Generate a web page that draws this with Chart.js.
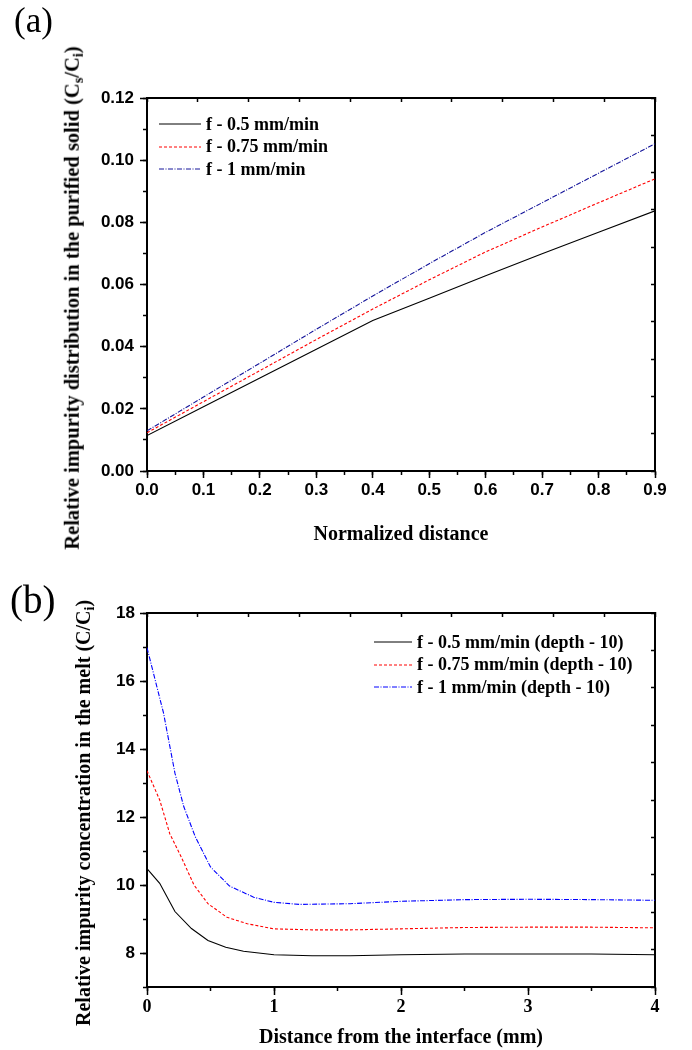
<!DOCTYPE html>
<html><head><meta charset="utf-8">
<script src="https://cdn.jsdelivr.net/npm/chart.js@4.4.1/dist/chart.umd.min.js"></script>
<style>
html,body{margin:0;padding:0;background:#fff;}
body{width:692px;height:1050px;position:relative;overflow:hidden;font-family:"Liberation Serif","Times New Roman",serif;}
canvas{position:absolute;left:0;}
.panel{position:absolute;font-family:"Liberation Serif",serif;font-weight:normal;line-height:1;}
.ytitle{position:absolute;font-weight:bold;font-size:20px;white-space:nowrap;transform:translate(-50%,-50%) rotate(-90deg);color:#000;line-height:1;}
.ytitle sub{font-size:70%;vertical-align:-0.3em;line-height:0;}
.leg{position:absolute;font-weight:bold;font-size:18px;white-space:nowrap;display:flex;align-items:center;height:22px;transform:translateY(-50%);color:#000;}
.leg svg{margin-right:5px;}
</style>
</head><body>
<canvas id="ca" width="692" height="555" style="top:0"></canvas>
<canvas id="cb" width="692" height="505" style="top:545px"></canvas>
<div class="panel" style="left:14px;top:3px;font-size:35px;">(a)</div>
<div class="panel" style="left:10px;top:580px;font-size:39px;">(b)</div>
<div class="ytitle" style="left:72px;top:298px;font-size:20.5px;">Relative impurity distribution in the purified solid (C<sub>s</sub>/C<sub>i</sub>)</div>
<div class="ytitle" style="left:83px;top:813px;">Relative impurity concentration in the melt (C/C<sub>i</sub>)</div>
<div id="legA"></div>
<div id="legB"></div>
<script>
// ---------- Panel (a) data ----------
const aDistance = [0, 0.1, 0.2, 0.3, 0.4, 0.5, 0.6, 0.7, 0.8, 0.9];
const aF05  = [0.0114, 0.0207, 0.0299, 0.0392, 0.0484, 0.0556, 0.0628, 0.0699, 0.0768, 0.0837];
const aF075 = [0.0123, 0.0223, 0.0323, 0.0423, 0.0521, 0.0615, 0.0705, 0.0785, 0.0863, 0.0940];
const aF1   = [0.0129, 0.0238, 0.0347, 0.0456, 0.0563, 0.0667, 0.0768, 0.0863, 0.0958, 0.1053];
const aLabels = ['f - 0.5 mm/min', 'f - 0.75 mm/min', 'f - 1 mm/min'];

// ---------- Panel (b) data ----------
const bDist05  = [0, 0.1, 0.22, 0.35, 0.48, 0.62, 0.76, 1.0, 1.3, 1.6, 2.0, 2.5, 3.0, 3.5, 4.0];
const bF05     = [10.48, 10.05, 9.22, 8.72, 8.37, 8.17, 8.05, 7.95, 7.92, 7.92, 7.95, 7.97, 7.97, 7.97, 7.95];
const bDist075 = [0, 0.1, 0.18, 0.27, 0.37, 0.48, 0.63, 0.79, 1.0, 1.3, 1.6, 2.0, 2.5, 3.0, 3.5, 4.0];
const bF075    = [13.36, 12.5, 11.5, 10.82, 10.0, 9.45, 9.05, 8.86, 8.71, 8.68, 8.68, 8.71, 8.75, 8.76, 8.76, 8.74];
const bDist1   = [0, 0.09, 0.13, 0.22, 0.29, 0.38, 0.5, 0.65, 0.84, 1.0, 1.2, 1.6, 2.0, 2.5, 3.0, 3.5, 4.0];
const bF1      = [16.98, 15.65, 15.06, 13.29, 12.3, 11.42, 10.53, 9.97, 9.64, 9.49, 9.43, 9.45, 9.52, 9.57, 9.58, 9.57, 9.55];
const bLabels = ['f - 0.5 mm/min (depth - 10)', 'f - 0.75 mm/min (depth - 10)', 'f - 1 mm/min (depth - 10)'];

const colorsA = ['#000000', '#ff0000', '#14149a'];
const colorsB = ['#000000', '#ff0000', '#0000ff'];
const dashes = [[], [3, 2], [5, 1.5, 1, 1.5]];

const sansBold = (s) => ({family: '"Liberation Sans", Arial, sans-serif', size: s, weight: 'bold'});
const serifBold = (s) => ({family: '"Liberation Serif", "Times New Roman", serif', size: s, weight: 'bold'});

function pts(xs, ys) { return xs.map((x, i) => ({x: x, y: ys[i]})); }
function ds(label, data, color, dash) {
  return {label, data, borderColor: color, backgroundColor: color, borderWidth: 1.1, borderDash: dash,
          pointRadius: 0, fill: false, tension: 0};
}
function frameAxes(xMin, xMax, xMinor, yMin, yMax, yMinor) {
  const none = {drawOnChartArea: false};
  return {
    xm: {type: 'linear', position: 'bottom', weight: -1, min: xMin, max: xMax,
         ticks: {display: false, stepSize: xMinor},
         grid: {...none, tickLength: 4, tickColor: '#000', tickWidth: 1.5},
         border: {display: false}, afterFit: s => { s.height = 0; }},
    ym: {type: 'linear', position: 'left', weight: -1, min: yMin, max: yMax,
         ticks: {display: false, stepSize: yMinor},
         grid: {...none, tickLength: 4, tickColor: '#000', tickWidth: 1.5},
         border: {display: false}, afterFit: s => { s.width = 0; }},
    x2: {type: 'linear', position: 'top', min: 0, max: 10,
         ticks: {display: false, stepSize: 1},
         grid: {...none, tickLength: -4, tickColor: '#000', tickWidth: 1.5},
         border: {color: '#000', width: 2}, afterFit: s => { s.height = 0; }},
    y2: {type: 'linear', position: 'right', min: 0, max: 10,
         ticks: {display: false, stepSize: 1},
         grid: {...none, tickLength: -4, tickColor: '#000', tickWidth: 1.5},
         border: {color: '#000', width: 2}, afterFit: s => { s.width = 0; }}
  };
}

// ---------- Chart (a) ----------
new Chart(document.getElementById('ca'), {
  type: 'line',
  data: {datasets: [
    ds(aLabels[0], pts(aDistance, aF05), colorsA[0], dashes[0]),
    ds(aLabels[1], pts(aDistance, aF075), colorsA[1], dashes[1]),
    ds(aLabels[2], pts(aDistance, aF1), colorsA[2], dashes[2])
  ]},
  options: {
    responsive: false, animation: false, devicePixelRatio: 1,
    layout: {padding: {top: 98, right: 37, left: 0, bottom: 0}},
    plugins: {legend: {display: false}, tooltip: {enabled: false}},
    scales: {
      x: {type: 'linear', position: 'bottom', min: 0, max: 0.9,
          ticks: {stepSize: 0.1, callback: v => v.toFixed(1), font: sansBold(17), color: '#000', padding: 2, maxRotation: 0, autoSkip: false},
          grid: {drawOnChartArea: false, tickLength: 7, tickColor: '#000', tickWidth: 1.5},
          border: {color: '#000', width: 2},
          title: {display: true, text: 'Normalized distance', font: serifBold(20), color: '#000', padding: {top: 0, bottom: 8}},
          afterFit: s => { s.height = 84; }},
      y: {type: 'linear', position: 'left', min: 0, max: 0.12,
          ticks: {stepSize: 0.02, callback: v => v.toFixed(2), font: sansBold(17), color: '#000', padding: 6, autoSkip: false},
          grid: {drawOnChartArea: false, tickLength: 7, tickColor: '#000', tickWidth: 1.5},
          border: {color: '#000', width: 2},
          afterFit: s => { s.width = 147; }},
      ...frameAxes(0, 0.9, 0.05, 0, 0.12, 0.01)
    }
  }
});

// ---------- Chart (b) ----------
new Chart(document.getElementById('cb'), {
  type: 'line',
  data: {datasets: [
    ds(bLabels[0], pts(bDist05, bF05), colorsB[0], dashes[0]),
    ds(bLabels[1], pts(bDist075, bF075), colorsB[1], dashes[1]),
    ds(bLabels[2], pts(bDist1, bF1), colorsB[2], dashes[2])
  ]},
  options: {
    responsive: false, animation: false, devicePixelRatio: 1,
    layout: {padding: {top: 68, right: 37, left: 0, bottom: 0}},
    plugins: {legend: {display: false}, tooltip: {enabled: false}},
    scales: {
      x: {type: 'linear', position: 'bottom', min: 0, max: 4,
          ticks: {stepSize: 1, font: serifBold(18), color: '#000', padding: 2, maxRotation: 0, autoSkip: false},
          grid: {drawOnChartArea: false, tickLength: 8, tickColor: '#000', tickWidth: 1.5},
          border: {color: '#000', width: 2},
          title: {display: true, text: 'Distance from the interface (mm)', font: serifBold(20), color: '#000', padding: {top: 0, bottom: 0}},
          afterFit: s => { s.height = 63; }},
      y: {type: 'linear', position: 'left', min: 7, max: 18,
          ticks: {stepSize: 1, callback: v => (v % 2 === 0 ? String(v) : ''), font: sansBold(17), color: '#000', padding: 5, autoSkip: false},
          grid: {drawOnChartArea: false, tickLength: 7, tickWidth: 1.5,
                 tickColor: c => (c.tick && c.tick.value % 2 === 0 ? '#000' : 'rgba(0,0,0,0)')},
          border: {color: '#000', width: 2},
          afterFit: s => { s.width = 147; }},
      ...frameAxes(0, 4, 0.5, 7, 18, 1)
    }
  }
});

// ---------- HTML legends ----------
function legend(containerId, labels, colors, left, tops, lineW) {
  const c = document.getElementById(containerId);
  labels.forEach((lab, i) => {
    const d = document.createElement('div');
    d.className = 'leg';
    d.style.left = left + 'px';
    d.style.top = tops[i] + 'px';
    const dash = dashes[i].length ? ' stroke-dasharray="' + dashes[i].join(',') + '"' : '';
    d.innerHTML = '<svg width="' + lineW + '" height="4"><line x1="0" y1="2" x2="' + lineW + '" y2="2" stroke="' + colors[i] + '" stroke-width="1"' + dash + '/></svg><span></span>';
    d.querySelector('span').textContent = lab;
    c.appendChild(d);
  });
}
legend('legA', aLabels, colorsA, 159, [124, 146.5, 169], 42);
legend('legB', bLabels, colorsB, 374, [642, 664.5, 687], 38);
</script>
</body></html>
